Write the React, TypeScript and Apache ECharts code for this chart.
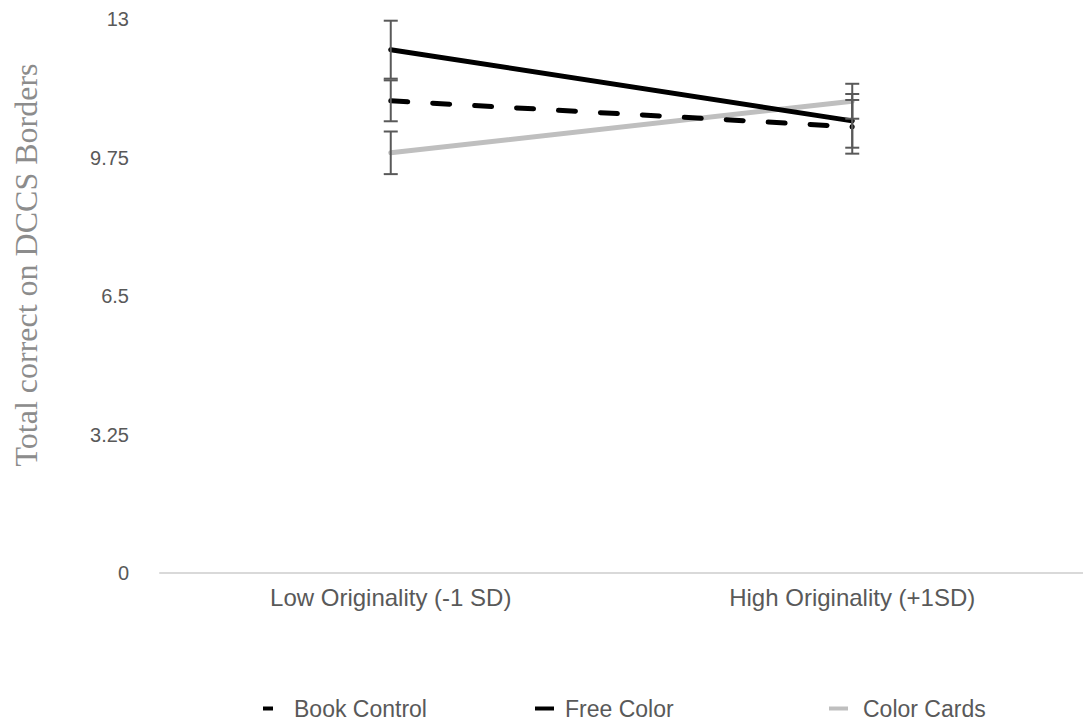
import React, { useEffect, useRef } from "react";
import * as echarts from "echarts";

const categories = ["Low Originality (-1 SD)", "High Originality (+1SD)"];
const yTicks = [0, 3.25, 6.5, 9.75, 13];
const seriesNames = ["Book Control", "Free Color", "Color Cards"];
const bookControl = [11.08, 10.47];
const bookControlErr = [0.48, 0.63];
const freeColor = [12.28, 10.61];
const freeColorErr = [0.68, 0.63];
const colorCards = [9.86, 11.07];
const colorCardsErr = [0.5, 0.41];

export default function App() {
  const ref = useRef<HTMLDivElement>(null);
  useEffect(() => {
    document.body.style.margin = "0";
    const chart = echarts.init(ref.current!, null, { renderer: "svg" });
    const groups = [
      [bookControl, bookControlErr],
      [freeColor, freeColorErr],
      [colorCards, colorCardsErr],
    ];
    const errData: number[][] = [];
    groups.forEach(([vals, errs]) => {
      vals.forEach((v, i) => errData.push([i, v - errs[i], v + errs[i]]));
    });
    const textColor = "#595959";
    const legendBase = {
      top: 692,
      itemHeight: 4,
      textStyle: { color: textColor, fontSize: 23, fontFamily: "Liberation Sans, Arial, sans-serif" },
      selectedMode: false,
    };
    chart.setOption({
      animation: false,
      grid: { left: 160, right: -7, top: 19, bottom: 151, containLabel: false },
      xAxis: {
        type: "category",
        data: categories,
        boundaryGap: true,
        axisLine: { show: true, lineStyle: { color: "#d9d9d9", width: 2 } },
        axisTick: { show: false },
        axisLabel: {
          color: textColor,
          fontSize: 24,
          margin: 12,
          fontFamily: "Liberation Sans, Arial, sans-serif",
        },
      },
      yAxis: {
        type: "value",
        min: 0,
        max: 13,
        interval: 3.25,
        axisLine: { show: false },
        axisTick: { show: false },
        splitLine: { show: false },
        axisLabel: {
          color: textColor,
          fontSize: 20,
          margin: 31,
          fontFamily: "Liberation Sans, Arial, sans-serif",
          formatter: (v: number) => (yTicks.includes(v) ? String(v) : ""),
        },
      },
      legend: [
        { ...legendBase, left: 258, itemWidth: 10, data: [{ name: seriesNames[0], icon: "rect" }], textStyle: { ...legendBase.textStyle, padding: [0, 0, 0, 16] } },
        { ...legendBase, left: 530, itemWidth: 19, data: [{ name: seriesNames[1], icon: "rect" }], textStyle: { ...legendBase.textStyle, padding: [0, 0, 0, 6] } },
        { ...legendBase, left: 824, itemWidth: 19, data: [{ name: seriesNames[2], icon: "rect" }], textStyle: { ...legendBase.textStyle, padding: [0, 0, 0, 10] } },
      ],
      graphic: [
        {
          type: "text",
          x: 26,
          y: 265,
          rotation: Math.PI / 2,
          style: {
            text: "Total correct on DCCS Borders",
            fill: "#8c8c8c",
            font: '32px "Liberation Serif", "Times New Roman", serif',
            align: "center",
            verticalAlign: "middle",
          },
        },
      ],
      series: [
        {
          name: seriesNames[0],
          type: "line",
          data: bookControl,
          symbol: "none",
          itemStyle: { color: "#000000" },
          lineStyle: { color: "#000000", width: 5, type: [17, 25], cap: "round" },
          z: 2,
        },
        {
          name: seriesNames[1],
          type: "line",
          data: freeColor,
          symbol: "none",
          itemStyle: { color: "#000000" },
          lineStyle: { color: "#000000", width: 5, cap: "round" },
          z: 2,
        },
        {
          name: seriesNames[2],
          type: "line",
          data: colorCards,
          symbol: "none",
          itemStyle: { color: "#bfbfbf" },
          lineStyle: { color: "#bfbfbf", width: 5, cap: "round" },
          z: 1,
        },
        {
          type: "custom",
          data: errData,
          z: 5,
          silent: true,
          renderItem: (params: any, api: any) => {
            const x = api.value(0);
            const top = api.coord([x, api.value(2)]);
            const bot = api.coord([x, api.value(1)]);
            const hw = 7;
            const style = { stroke: "#595959", lineWidth: 2 };
            return {
              type: "group",
              children: [
                { type: "line", shape: { x1: top[0], y1: top[1], x2: bot[0], y2: bot[1] }, style },
                { type: "line", shape: { x1: top[0] - hw, y1: top[1], x2: top[0] + hw, y2: top[1] }, style },
                { type: "line", shape: { x1: bot[0] - hw, y1: bot[1], x2: bot[0] + hw, y2: bot[1] }, style },
              ],
            };
          },
        },
      ],
    });
    return () => chart.dispose();
  }, []);
  return <div ref={ref} style={{ width: 1083, height: 724 }} />;
}
